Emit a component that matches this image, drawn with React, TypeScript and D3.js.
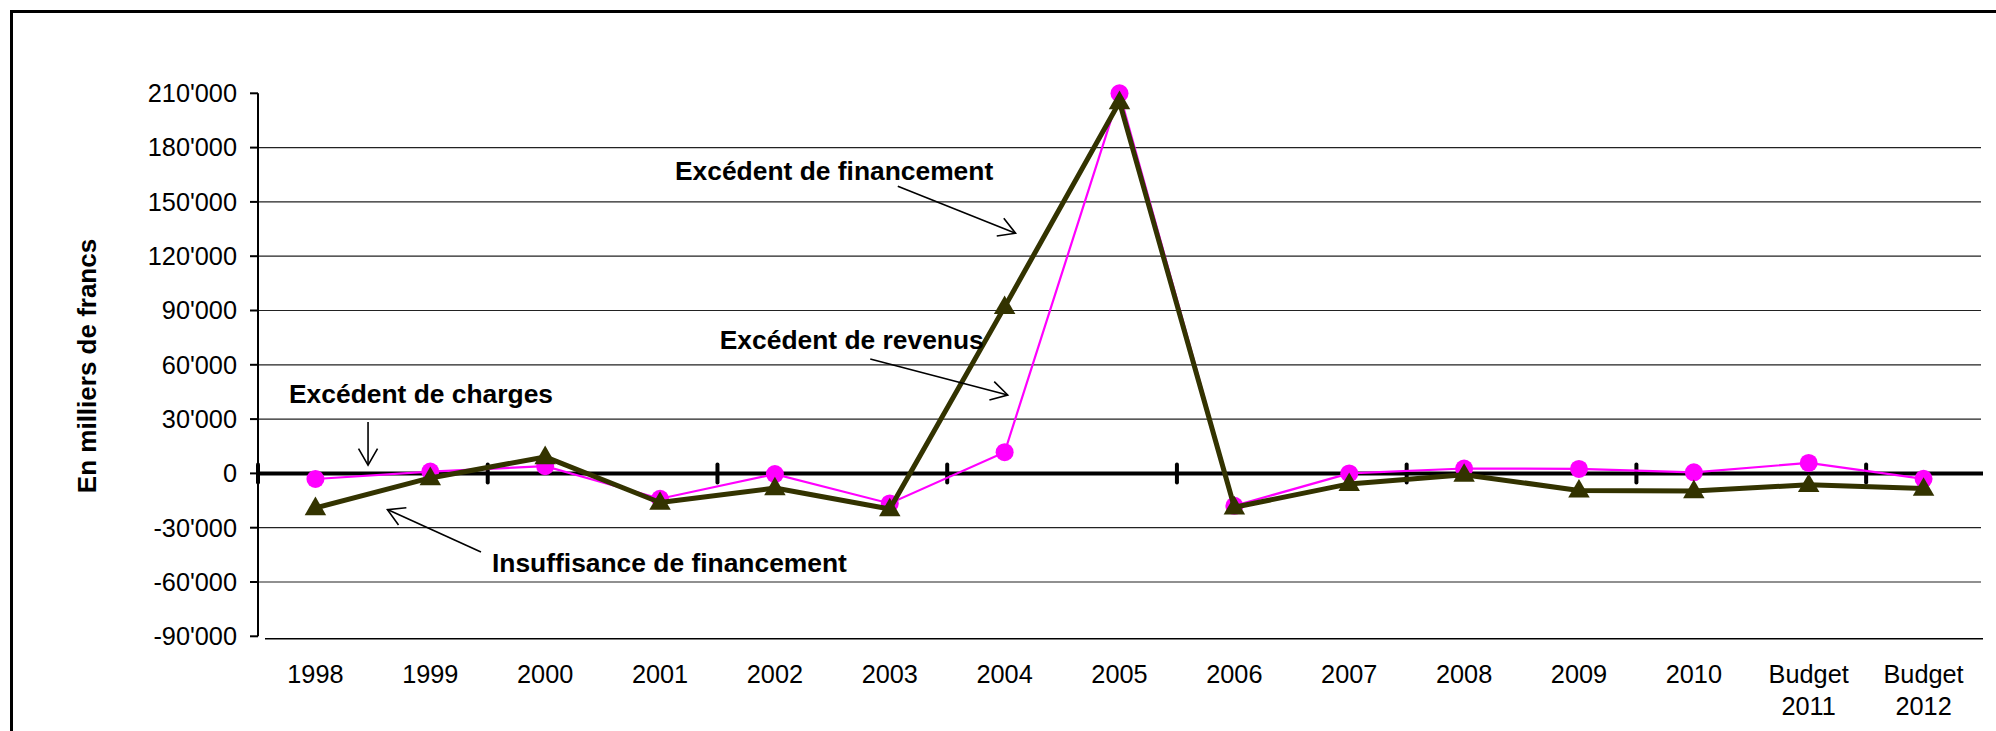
import React from 'react';
import * as d3 from 'd3';

const categories = ['1998', '1999', '2000', '2001', '2002', '2003', '2004', '2005', '2006', '2007', '2008', '2009', '2010', 'Budget 2011', 'Budget 2012'];
const excedentRevenus = [-3100, 1000, 4000, -14000, -400, -16600, 11700, 210000, -17900, 0, 2700, 2500, 600, 5800, -3000];
const excedentFinancement = [-19100, -2500, 9100, -16100, -8100, -19700, 92000, 205200, -18700, -5800, -700, -9400, -9700, -6300, -8400];
const yTicks = [-90000, -60000, -30000, 0, 30000, 60000, 90000, 120000, 150000, 180000, 210000];
const yTitle = 'En milliers de francs';

// annotations: text anchor (f = position in category units from the left edge, v = value) and arrow [from, to]
const annotations = [
  { text: 'Excédent de financement', f: 3.63, v: 162000, from: [5.57, 158700], to: [6.595, 132700] },
  { text: 'Excédent de revenus', f: 4.02, v: 68700, from: [5.33, 63200], to: [6.527, 43300] },
  { text: 'Excédent de charges', f: 0.27, v: 38900, from: [0.958, 28400], to: [0.958, 4600] },
  { text: 'Insuffisance de financement', f: 2.037, v: -54500, from: [1.941, -43400], to: [1.127, -20000] },
];

const W = 1996;
const H = 731;
const FONT = 'Arial, "Liberation Sans", sans-serif';

const locale = d3.formatLocale({ decimal: '.', thousands: "'", grouping: [3], currency: ['', ''], minus: '-' });
const fmt = locale.format(',');

export default function App() {
  const x = d3.scaleBand<string>().domain(categories).range([258, 1981]).padding(0);
  const y = d3.scaleLinear().domain([-90000, 210000]).range([636.3, 93.3]);
  const cx = (c: string) => (x(c) as number) + x.bandwidth() / 2;
  const fx = (f: number) => x.range()[0] + f * x.step();

  const line = d3
    .line<number>()
    .x((_, i) => cx(categories[i]))
    .y((d) => y(d));

  const x0 = x.range()[0];
  const x1 = x.range()[1];
  const y0 = y(0);

  const triangle = d3.symbol(d3.symbolTriangle, 200)();

  const arrowHead = (fx1: number, fy1: number, fx2: number, fy2: number) => {
    const ang = Math.atan2(fy2 - fy1, fx2 - fx1);
    const L = 19;
    const a1 = ang + Math.PI - (Math.PI / 6);
    const a2 = ang + Math.PI + (Math.PI / 6);
    return `M${fx2 + L * Math.cos(a1)},${fy2 + L * Math.sin(a1)}L${fx2},${fy2}L${fx2 + L * Math.cos(a2)},${fy2 + L * Math.sin(a2)}`;
  };

  const zeroTicks = d3.range(0, categories.length, 2);

  return (
    <svg width={W} height={H} style={{ position: 'absolute', left: 0, top: 0, background: '#fff' }} fontFamily={FONT}>
      <rect x={0} y={0} width={W} height={H} fill="#fff" />
      {/* outer frame */}
      <rect x={11.5} y={11.5} width={W + 50} height={H + 50} fill="none" stroke="#000" strokeWidth={3} />

      {/* gridlines */}
      {yTicks
        .filter((t) => t !== 0 && t !== 210000 && t !== -90000)
        .map((t) => (
          <line key={'g' + t} x1={x0} x2={x1} y1={y(t)} y2={y(t)} stroke="#222" strokeWidth={1.2} />
        ))}
      {/* bottom line */}
      <line x1={265} x2={x1 + 2} y1={y(-90000) + 2.5} y2={y(-90000) + 2.5} stroke="#000" strokeWidth={1.5} />

      {/* y axis */}
      <line x1={x0} x2={x0} y1={y(210000)} y2={y(-90000)} stroke="#000" strokeWidth={2} />
      {yTicks.map((t) => (
        <g key={'t' + t}>
          <line x1={x0 - 8} x2={x0} y1={y(t)} y2={y(t)} stroke="#000" strokeWidth={2} />
          <text x={237} y={y(t)} dy="0.35em" textAnchor="end" fontSize={25.3} fill="#000">
            {fmt(t)}
          </text>
        </g>
      ))}

      {/* zero line */}
      <line x1={x0} x2={x1 + 2} y1={y0} y2={y0} stroke="#000" strokeWidth={4} />
      {zeroTicks.map((i) => (
        <line key={'z' + i} x1={x0 + i * x.step()} x2={x0 + i * x.step()} y1={y0 - 9} y2={y0 + 9} stroke="#000" strokeWidth={4} strokeLinecap="round" />
      ))}

      {/* x labels */}
      {categories.map((c) => {
        const parts = c.split(' ');
        return (
          <text key={'x' + c} x={cx(c)} y={683} textAnchor="middle" fontSize={25.3} fill="#000">
            {parts.map((p, k) => (
              <tspan key={k} x={cx(c)} dy={k === 0 ? 0 : 32}>
                {p}
              </tspan>
            ))}
          </text>
        );
      })}

      {/* y title */}
      <text transform={`translate(96,366) rotate(-90)`} textAnchor="middle" fontSize={26} fontWeight="bold" fill="#000">
        {yTitle}
      </text>

      {/* series: excédent de revenus */}
      <path d={line(excedentRevenus) as string} fill="none" stroke="#FF00FF" strokeWidth={2.2} />
      {excedentRevenus.map((v, i) => (
        <circle key={'c' + i} cx={cx(categories[i])} cy={y(v)} r={9} fill="#FF00FF" />
      ))}

      {/* series: excédent de financement */}
      <path d={line(excedentFinancement) as string} fill="none" stroke="#333300" strokeWidth={5} strokeLinejoin="round" />
      {excedentFinancement.map((v, i) => (
        <path key={'tr' + i} d={triangle as string} transform={`translate(${cx(categories[i])},${y(v) + 1})`} fill="#333300" />
      ))}

      {/* annotations */}
      {annotations.map((a) => {
        const ax1 = fx(a.from[0]);
        const ay1 = y(a.from[1]);
        const ax2 = fx(a.to[0]);
        const ay2 = y(a.to[1]);
        return (
          <g key={a.text}>
            <text x={fx(a.f)} y={y(a.v)} fontSize={26.4} fontWeight="bold" fill="#000">
              {a.text}
            </text>
            <line x1={ax1} y1={ay1} x2={ax2} y2={ay2} stroke="#000" strokeWidth={1.6} />
            <path d={arrowHead(ax1, ay1, ax2, ay2)} fill="none" stroke="#000" strokeWidth={1.6} />
          </g>
        );
      })}
    </svg>
  );
}
